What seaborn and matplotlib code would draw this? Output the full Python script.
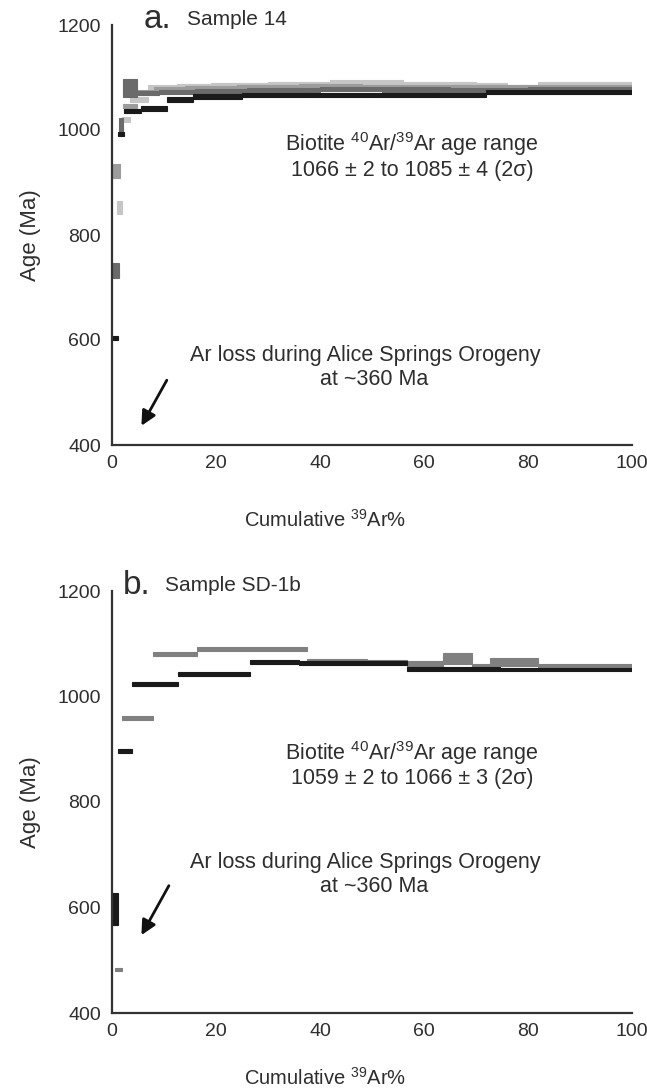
import numpy as np
import matplotlib
matplotlib.use("Agg")
import matplotlib.pyplot as plt
import seaborn as sns

# panel a - Sample 14 : four step-heating spectra (cumulative 39Ar % edges, age Ma, 1 sigma half height)
a_black_cum = [0, 1.2, 2.4, 5.5, 10.5, 15.5, 25, 38, 50, 62, 72, 100]
a_black_age = [604, 992, 1036, 1041, 1058, 1064, 1066, 1066, 1067, 1066, 1072]
a_black_err = [4, 4, 4, 4, 4, 4, 4, 4, 4, 4, 4]

a_dark_cum = [0, 1.4, 2.1, 4.8, 9, 16, 26, 40, 52, 65, 80, 100]
a_dark_age = [732, 1008, 1080, 1071, 1072, 1074, 1076, 1078, 1077, 1076, 1078]
a_dark_err = [14, 14, 17, 4, 4, 4, 4, 4, 4, 4, 4]

a_mid_cum = [0.2, 1.5, 2.2, 4.8, 8, 14, 24, 36, 48, 60, 75, 100]
a_mid_age = [922, 1000, 1046, 1073, 1078, 1080, 1082, 1083, 1082, 1081, 1082]
a_mid_err = [14, 6, 4, 4, 4, 4, 4, 4, 4, 4, 4]

a_light_cum = [0.9, 2.0, 3.5, 7, 12.5, 19, 30, 42, 56, 70, 76, 82, 100]
a_light_age = [852, 1020, 1058, 1082, 1084, 1086, 1088, 1090, 1087, 1085, 1082, 1088]
a_light_err = [12, 5, 4, 4, 4, 4, 4, 5, 4, 4, 4, 4]

# panel b - Sample SD-1b : two spectra
b_black_cum = [0, 1.2, 3.8, 12.7, 26.5, 36, 56.7, 74.6, 100]
b_black_age = [597, 896, 1024, 1042, 1065, 1063, 1052, 1051]
b_black_err = [30, 4, 4, 4, 4, 4, 4, 3]

b_gray_cum = [0.5, 2.0, 7.8, 16.3, 37.5, 49, 56.7, 63.6, 69.2, 72.7, 82, 100]
b_gray_age = [482, 959, 1080, 1090, 1067, 1066, 1062, 1072, 1058, 1065, 1058]
b_gray_err = [3, 4, 4, 4, 4, 4, 6, 11, 4, 8, 4]

age_ticks = [400, 600, 800, 1000, 1200]
pct_ticks = [0, 20, 40, 60, 80, 100]

sns.set_theme(style="white")
plt.rcParams['font.family'] = ['Liberation Sans', 'DejaVu Sans']
plt.rcParams['mathtext.fontset'] = 'custom'
plt.rcParams['mathtext.rm'] = 'Liberation Sans'
plt.rcParams['mathtext.it'] = 'Liberation Sans:italic'

txt = '#2e2e2e'
fs = 15.5


def spectrum(ax, cum, age, err, color):
    cum = np.asarray(cum, float)
    age = np.asarray(age, float)
    err = np.asarray(err, float)
    ax.bar(cum[:-1], 2 * err, width=np.diff(cum), bottom=age - err, align='edge',
           color=color, edgecolor=color, linewidth=0.8)


def style(ax, letter, sample, lx, sx):
    ax.set_xlim(0, 100)
    ax.set_ylim(400, 1200)
    ax.set_xticks(pct_ticks)
    ax.set_yticks(age_ticks)
    sns.despine(ax=ax)
    for s in ['left', 'bottom']:
        ax.spines[s].set_color('#333333')
        ax.spines[s].set_linewidth(1.6)
    ax.tick_params(length=0, labelsize=14, colors=txt)
    ax.tick_params(axis='y', pad=8)
    ax.tick_params(axis='x', pad=7)
    ax.set_ylabel('Age (Ma)', fontsize=16, color=txt, labelpad=12)
    ax.set_xlabel('Cumulative $^{39}$Ar%', fontsize=14.5, color=txt)
    ax.text(lx, 1.012, letter, transform=ax.transAxes, fontsize=24, color=txt, va='center')
    ax.text(sx, 1.012, sample, transform=ax.transAxes, fontsize=15, color=txt, va='center')


fig = plt.figure(figsize=(6.47, 10.92), dpi=100)
ax_a = fig.add_axes([112 / 647, 1 - 445 / 1092, 520 / 647, 420 / 1092])
ax_b = fig.add_axes([112 / 647, 1 - 1013 / 1092, 520 / 647, 422 / 1092])

spectrum(ax_a, a_light_cum, a_light_age, a_light_err, '#c6c6c6')
spectrum(ax_a, a_mid_cum, a_mid_age, a_mid_err, '#9c9c9c')
spectrum(ax_a, a_dark_cum, a_dark_age, a_dark_err, '#6a6a6a')
spectrum(ax_a, a_black_cum, a_black_age, a_black_err, '#1a1a1a')

spectrum(ax_b, b_gray_cum, b_gray_age, b_gray_err, '#808080')
spectrum(ax_b, b_black_cum, b_black_age, b_black_err, '#1a1a1a')

style(ax_a, 'a.', 'Sample 14', 0.06, 0.145)
style(ax_b, 'b.', 'Sample SD-1b', 0.02, 0.102)

# x labels sit low, a bit left of centre
ax_a.xaxis.set_label_coords(0.41, -(520 - 445) / 420, transform=ax_a.transAxes)
ax_b.xaxis.set_label_coords(0.41, -(1078 - 1013) / 422, transform=ax_b.transAxes)
ax_a.xaxis.label.set_verticalalignment('center')
ax_b.xaxis.label.set_verticalalignment('center')

# annotations
ax_a.text(57.7, 973, 'Biotite $^{40}$Ar/$^{39}$Ar age range', ha='center', va='center', fontsize=fs, color=txt)
ax_a.text(57.7, 922, '1066 ± 2 to 1085 ± 4 (2σ)', ha='center', va='center', fontsize=fs, color=txt)
ax_a.text(48.7, 571, 'Ar loss during Alice Springs Orogeny', ha='center', va='center', fontsize=fs, color=txt)
ax_a.text(50.5, 524, 'at ~360 Ma', ha='center', va='center', fontsize=fs, color=txt)
ax_a.annotate('', xy=(5.4, 432), xytext=(10.8, 528),
              arrowprops=dict(arrowstyle='-|>', color='#111111', lw=2.0, mutation_scale=22))

ax_b.text(57.7, 893, 'Biotite $^{40}$Ar/$^{39}$Ar age range', ha='center', va='center', fontsize=fs, color=txt)
ax_b.text(57.7, 844, '1059 ± 2 to 1066 ± 3 (2σ)', ha='center', va='center', fontsize=fs, color=txt)
ax_b.text(48.7, 686, 'Ar loss during Alice Springs Orogeny', ha='center', va='center', fontsize=fs, color=txt)
ax_b.text(50.5, 639, 'at ~360 Ma', ha='center', va='center', fontsize=fs, color=txt)
ax_b.annotate('', xy=(5.4, 543), xytext=(11.2, 646),
              arrowprops=dict(arrowstyle='-|>', color='#111111', lw=2.0, mutation_scale=22))

fig.savefig('out.png', dpi=100)
